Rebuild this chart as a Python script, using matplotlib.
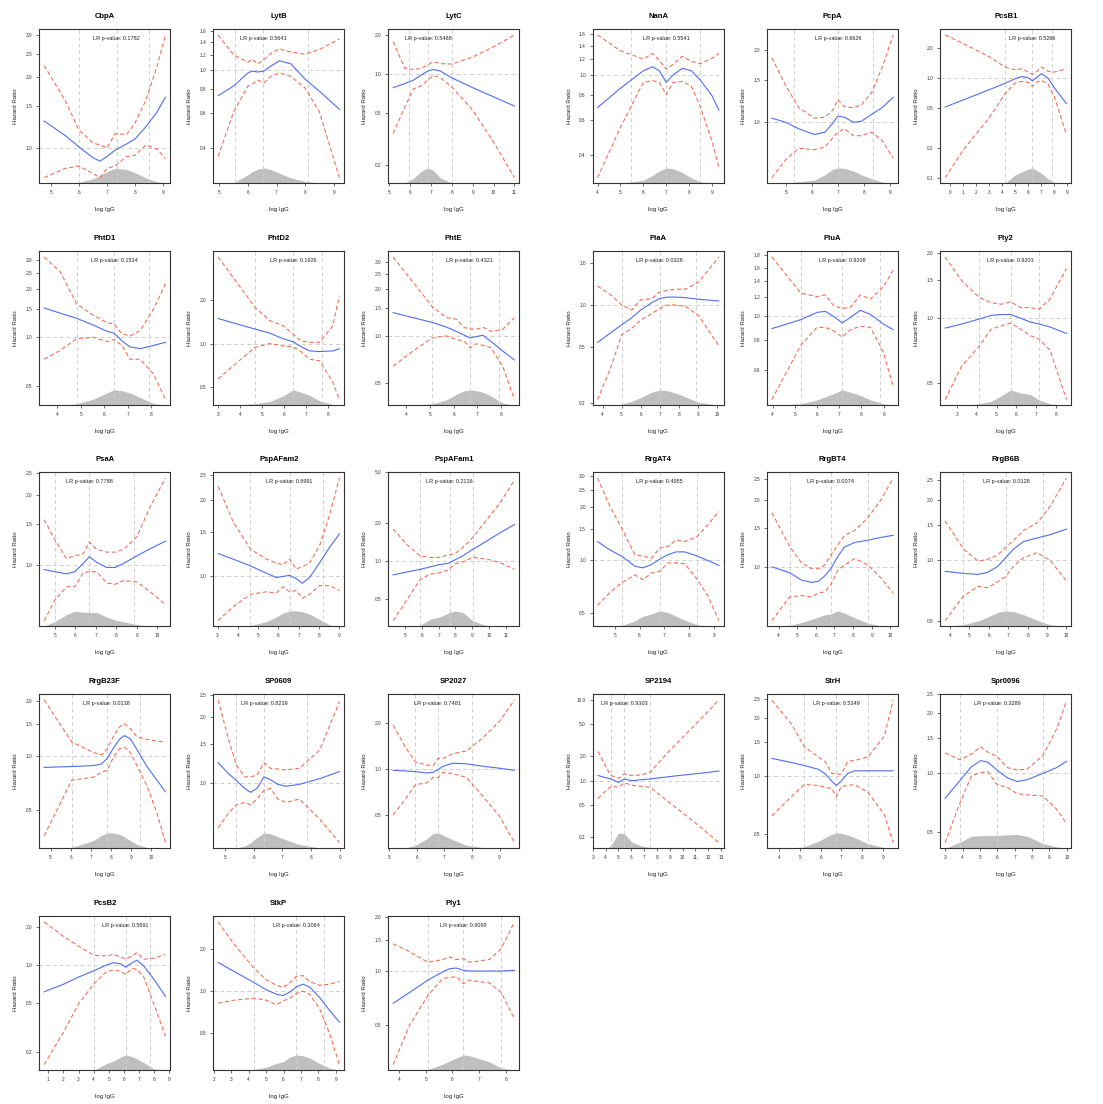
import numpy as np
import matplotlib
matplotlib.use('Agg')
import matplotlib.pyplot as plt
from matplotlib.ticker import NullLocator

plt.rcParams['font.family'] = ['Liberation Sans', 'DejaVu Sans']

# ---- data (x = log IgG, HR with lower / upper CI, density shape) ----
names = ['CbpA', 'LytB', 'LytC', 'NanA', 'PcpA', 'PcsB1',
         'PhtD1', 'PhtD2', 'PhtE', 'PiaA', 'PiuA', 'Ply2',
         'PsaA', 'PspAFam2', 'PspAFam1', 'RrgAT4', 'RrgBT4', 'RrgB6B',
         'RrgB23F', 'SP0609', 'SP2027', 'SP2194', 'StrH', 'Spr0096',
         'PcsB2', 'StkP', 'Ply1']
pvals = ['0.1782', '0.5641', '0.5468', '0.5541', '0.6626', '0.5266',
         '0.1534', '0.1926', '0.4321', '0.0328', '0.9208', '0.9203',
         '0.7788', '0.6991', '0.2136', '0.4955', '0.0074', '0.0128',
         '0.0138', '0.8239', '0.7481', '0.9303', '0.5349', '0.3289',
         '0.5691', '0.3064', '0.9099']

cbpa_x = [4.75, 5.5, 6.0, 6.5, 6.75, 7.0, 7.3, 7.7, 8.0, 8.4, 8.8, 9.1]
cbpa_hr = [1.30, 1.13, 1.01, 0.91, 0.88, 0.92, 0.98, 1.04, 1.09, 1.23, 1.42, 1.64]
cbpa_hi = [2.23, 1.59, 1.19, 1.05, 1.03, 1.00, 1.15, 1.14, 1.27, 1.59, 2.21, 3.0]
cbpa_lo = [0.75, 0.82, 0.84, 0.78, 0.75, 0.82, 0.84, 0.92, 0.93, 1.03, 0.99, 0.90]
cbpa_dens = [0, 0, 0.06, 0.3, 0.5, 0.75, 0.98, 0.9, 0.7, 0.35, 0.1, 0.03]
cbpa_q = [6.0, 7.35, 8.5]
cbpa_yt = [1.0, 1.5, 2.0, 2.5, 3.0]
cbpa_xt = [5, 6, 7, 8, 9]

lytb_x = [4.96, 5.5, 6.0, 6.15, 6.35, 6.55, 6.8, 7.1, 7.5, 8.0, 8.5, 9.2]
lytb_hr = [0.74, 0.83, 0.97, 0.99, 0.98, 0.99, 1.05, 1.12, 1.08, 0.90, 0.78, 0.63]
lytb_hi = [1.52, 1.20, 1.10, 1.14, 1.08, 1.13, 1.22, 1.29, 1.24, 1.21, 1.28, 1.45]
lytb_lo = [0.36, 0.61, 0.83, 0.85, 0.89, 0.86, 0.93, 0.97, 0.93, 0.81, 0.61, 0.28]
lytb_dens = [0, 0.03, 0.55, 0.75, 0.92, 1.0, 0.9, 0.65, 0.35, 0.12, 0.03, 0]
lytb_q = [5.56, 6.53, 8.09]
lytb_yt = [0.4, 0.6, 0.8, 1.0, 1.2, 1.4, 1.6]
lytb_xt = [5, 6, 7, 8, 9]

lytc_x = [5.19, 5.75, 6.15, 6.5, 6.85, 7.1, 7.45, 8.0, 9.0, 10.0, 11.0]
lytc_hr = [0.79, 0.85, 0.90, 0.98, 1.06, 1.09, 1.06, 0.94, 0.79, 0.67, 0.57]
lytc_hi = [1.79, 1.11, 1.09, 1.11, 1.18, 1.25, 1.21, 1.20, 1.36, 1.63, 2.01]
lytc_lo = [0.35, 0.56, 0.77, 0.81, 0.90, 0.98, 0.94, 0.80, 0.53, 0.30, 0.16]
lytc_dens = [0, 0.02, 0.3, 0.75, 1.0, 0.85, 0.35, 0.02, 0, 0, 0]
lytc_q = [5.94, 6.87, 8.03]
lytc_yt = [0.2, 0.5, 1.0, 2.0]
lytc_xt = [5, 6, 7, 8, 9, 10, 11]

nana_x = [4.0, 5.0, 6.0, 6.4, 6.7, 7.0, 7.3, 7.7, 8.1, 8.5, 9.0, 9.3]
nana_hr = [0.69, 0.86, 1.05, 1.10, 1.05, 0.92, 1.00, 1.08, 1.05, 0.94, 0.79, 0.67]
nana_hi = [1.58, 1.32, 1.20, 1.28, 1.18, 1.07, 1.13, 1.24, 1.17, 1.14, 1.21, 1.28]
nana_lo = [0.31, 0.55, 0.92, 0.94, 0.92, 0.80, 0.92, 0.93, 0.88, 0.69, 0.47, 0.35]
nana_dens = [0, 0, 0.2, 0.5, 0.8, 1.0, 0.95, 0.7, 0.35, 0.1, 0.02, 0]
nana_q = [5.47, 7.0, 8.48]
nana_yt = [0.4, 0.6, 0.8, 1.0, 1.2, 1.4, 1.6]
nana_xt = [4, 5, 6, 7, 8, 9]

pcpa_x = [4.47, 5.0, 5.5, 6.1, 6.5, 6.8, 7.0, 7.25, 7.6, 7.9, 8.3, 8.7, 9.12]
pcpa_hr = [1.04, 1.00, 0.94, 0.89, 0.91, 0.99, 1.06, 1.05, 1.00, 1.01, 1.08, 1.15, 1.27]
pcpa_hi = [1.85, 1.42, 1.15, 1.04, 1.05, 1.12, 1.24, 1.16, 1.15, 1.18, 1.33, 1.69, 2.30]
pcpa_lo = [0.59, 0.70, 0.78, 0.77, 0.79, 0.86, 0.91, 0.94, 0.88, 0.88, 0.91, 0.84, 0.71]
pcpa_dens = [0, 0.02, 0.1, 0.2, 0.55, 0.9, 1.0, 0.97, 0.8, 0.55, 0.3, 0.08, 0]
pcpa_q = [5.33, 7.0, 8.35]
pcpa_yt = [1.0, 1.5, 2.0]
pcpa_xt = [5, 6, 7, 8, 9]

pcsb1_x = [-0.4, 1.0, 3.0, 4.2, 5.0, 5.5, 6.0, 6.3, 6.6, 7.0, 7.5, 8.0, 8.92]
pcsb1_hr = [0.51, 0.60, 0.76, 0.88, 0.98, 1.03, 1.00, 0.93, 1.00, 1.10, 0.99, 0.79, 0.55]
pcsb1_hi = [2.68, 2.20, 1.62, 1.28, 1.20, 1.23, 1.14, 1.08, 1.14, 1.28, 1.16, 1.14, 1.23]
pcsb1_lo = [0.10, 0.19, 0.40, 0.69, 0.89, 0.92, 0.90, 0.82, 0.90, 0.94, 0.87, 0.64, 0.27]
pcsb1_dens = [0, 0, 0, 0.02, 0.55, 0.75, 0.92, 1.0, 0.85, 0.65, 0.3, 0.05, 0]
pcsb1_q = [4.2, 6.28, 7.83]
pcsb1_yt = [0.1, 0.2, 0.5, 1.0, 2.0]
pcsb1_xt = [0, 1, 2, 3, 4, 5, 6, 7, 8, 9]

phtd1_x = [3.45, 4.14, 4.83, 5.54, 6.11, 6.42, 6.75, 7.1, 7.53, 8.1, 8.6]
phtd1_hr = [1.52, 1.41, 1.31, 1.19, 1.09, 1.06, 0.95, 0.87, 0.85, 0.89, 0.93]
phtd1_hi = [3.15, 2.54, 1.61, 1.37, 1.23, 1.21, 1.05, 1.02, 1.10, 1.50, 2.15]
phtd1_lo = [0.73, 0.83, 0.98, 1.00, 0.94, 0.97, 0.89, 0.73, 0.73, 0.59, 0.41]
phtd1_dens = [0, 0.02, 0.1, 0.4, 0.8, 1.0, 0.95, 0.8, 0.5, 0.12, 0.02]
phtd1_q = [4.83, 6.42, 7.9]
phtd1_yt = [0.5, 1.0, 1.5, 2.0, 2.5, 3.0]
phtd1_xt = [4, 5, 6, 7, 8]

phtd2_x = [3.02, 3.69, 4.68, 5.35, 5.95, 6.4, 6.77, 7.15, 7.6, 8.2, 8.5]
phtd2_hr = [1.49, 1.39, 1.26, 1.18, 1.08, 1.03, 0.95, 0.89, 0.88, 0.89, 0.92]
phtd2_hi = [3.96, 2.87, 1.78, 1.44, 1.33, 1.16, 1.04, 1.02, 1.02, 1.33, 2.14]
phtd2_lo = [0.57, 0.70, 0.94, 1.00, 0.96, 0.95, 0.88, 0.78, 0.76, 0.54, 0.41]
phtd2_dens = [0, 0.02, 0.1, 0.25, 0.6, 1.0, 0.85, 0.65, 0.3, 0.05, 0]
phtd2_q = [4.68, 6.4, 7.7]
phtd2_yt = [0.5, 1.0, 2.0]
phtd2_xt = [3, 4, 5, 6, 7, 8]

phte_x = [3.44, 4.28, 5.1, 5.69, 6.11, 6.46, 6.7, 6.96, 7.24, 7.59, 8.08, 8.58]
phte_hr = [1.41, 1.31, 1.22, 1.14, 1.07, 1.01, 0.97, 0.99, 1.01, 0.92, 0.80, 0.70]
phte_hi = [3.21, 2.21, 1.54, 1.31, 1.28, 1.13, 1.11, 1.10, 1.14, 1.07, 1.10, 1.31]
phte_lo = [0.64, 0.80, 0.97, 1.00, 0.95, 0.92, 0.84, 0.89, 0.87, 0.84, 0.64, 0.39]
phte_dens = [0, 0.02, 0.1, 0.35, 0.7, 0.95, 1.0, 0.95, 0.85, 0.6, 0.15, 0.02]
phte_q = [5.1, 6.68, 7.94]
phte_yt = [0.5, 1.0, 1.5, 2.0, 2.5, 3.0]
phte_xt = [4, 5, 6, 7, 8]

piaa_x = [3.74, 4.48, 5.0, 5.53, 6.0, 6.59, 6.99, 7.38, 7.82, 8.35, 9.05, 10.11]
piaa_hr = [0.54, 0.64, 0.72, 0.81, 0.92, 1.04, 1.11, 1.14, 1.14, 1.13, 1.10, 1.07]
piaa_hi = [1.37, 1.17, 1.00, 0.92, 1.09, 1.11, 1.24, 1.27, 1.30, 1.30, 1.46, 2.21]
piaa_lo = [0.21, 0.37, 0.61, 0.68, 0.78, 0.87, 0.94, 1.00, 1.00, 0.98, 0.84, 0.51]
piaa_dens = [0, 0.02, 0.08, 0.25, 0.5, 0.85, 1.0, 0.95, 0.8, 0.55, 0.2, 0]
piaa_q = [5.0, 7.0, 8.91]
piaa_yt = [0.2, 0.5, 1.0, 2.0]
piaa_xt = [4, 5, 6, 7, 8, 9, 10]

piua_x = [3.97, 5.28, 6.0, 6.38, 6.75, 7.14, 7.5, 7.95, 8.41, 8.99, 9.43]
piua_hr = [0.89, 0.97, 1.04, 1.05, 1.00, 0.94, 0.99, 1.06, 1.02, 0.93, 0.88]
piua_hi = [1.77, 1.25, 1.21, 1.23, 1.11, 1.08, 1.09, 1.23, 1.18, 1.33, 1.56]
piua_lo = [0.45, 0.76, 0.90, 0.90, 0.87, 0.82, 0.88, 0.91, 0.90, 0.71, 0.51]
piua_dens = [0, 0.1, 0.35, 0.55, 0.75, 1.0, 0.85, 0.65, 0.35, 0.1, 0.02]
piua_q = [5.28, 7.14, 8.83]
piua_yt = [0.6, 0.8, 1.0, 1.2, 1.4, 1.6, 1.8]
piua_xt = [4, 5, 6, 7, 8, 9]

ply2_x = [2.42, 3.25, 4.12, 4.73, 5.22, 5.71, 6.21, 6.7, 7.14, 7.69, 8.51]
ply2_hr = [0.90, 0.94, 0.99, 1.03, 1.04, 1.04, 1.00, 0.96, 0.94, 0.91, 0.85]
ply2_hi = [1.92, 1.49, 1.25, 1.18, 1.16, 1.19, 1.12, 1.12, 1.10, 1.23, 1.70]
ply2_lo = [0.42, 0.60, 0.74, 0.89, 0.92, 0.95, 0.89, 0.83, 0.80, 0.71, 0.42]
ply2_dens = [0, 0, 0.1, 0.25, 0.6, 1.0, 0.8, 0.7, 0.35, 0.1, 0]
ply2_q = [4.12, 5.71, 7.14]
ply2_yt = [0.5, 1.0, 1.5, 2.0]
ply2_xt = [3, 4, 5, 6, 7, 8]

psaa_x = [4.48, 5.0, 5.57, 5.98, 6.39, 6.69, 7.05, 7.54, 7.95, 8.36, 9.02, 9.67, 10.41]
psaa_hr = [0.96, 0.94, 0.92, 0.94, 1.02, 1.09, 1.03, 0.98, 0.98, 1.02, 1.10, 1.18, 1.27]
psaa_hi = [1.57, 1.29, 1.07, 1.10, 1.12, 1.26, 1.17, 1.14, 1.14, 1.17, 1.33, 1.79, 2.37]
psaa_lo = [0.58, 0.71, 0.81, 0.81, 0.93, 0.94, 0.94, 0.84, 0.83, 0.86, 0.85, 0.77, 0.68]
psaa_dens = [0.02, 0.3, 0.75, 0.98, 0.92, 0.9, 0.9, 0.6, 0.4, 0.3, 0.1, 0.02, 0]
psaa_q = [5.0, 6.67, 8.85]
psaa_yt = [1.0, 1.5, 2.0, 2.5]
psaa_xt = [5, 6, 7, 8, 9, 10]

pspa2_x = [3.03, 3.77, 4.62, 5.4, 5.89, 6.22, 6.55, 6.87, 7.17, 7.53, 8.02, 8.51, 9.0]
pspa2_hr = [1.23, 1.17, 1.10, 1.03, 0.99, 1.00, 1.01, 0.98, 0.94, 0.99, 1.13, 1.30, 1.47]
pspa2_hi = [2.26, 1.64, 1.28, 1.17, 1.13, 1.11, 1.17, 1.07, 1.09, 1.13, 1.32, 1.74, 2.44]
pspa2_lo = [0.67, 0.76, 0.85, 0.87, 0.86, 0.91, 0.87, 0.88, 0.82, 0.85, 0.92, 0.92, 0.88]
pspa2_dens = [0, 0, 0.05, 0.3, 0.6, 0.85, 1.0, 1.0, 0.95, 0.8, 0.45, 0.1, 0]
pspa2_q = [4.62, 6.55, 8.18]
pspa2_yt = [1.0, 1.5, 2.0, 2.5]
pspa2_xt = [3, 4, 5, 6, 7, 8, 9]

pspa1_x = [4.31, 5.1, 5.89, 6.48, 7.07, 7.56, 7.95, 8.44, 9.04, 9.82, 10.61, 11.5]
pspa1_hr = [0.78, 0.82, 0.86, 0.90, 0.94, 0.96, 1.02, 1.10, 1.24, 1.43, 1.66, 1.94]
pspa1_hi = [1.79, 1.36, 1.10, 1.07, 1.07, 1.12, 1.14, 1.28, 1.54, 2.09, 2.83, 4.33]
pspa1_lo = [0.34, 0.49, 0.71, 0.79, 0.81, 0.85, 0.95, 0.99, 1.07, 1.04, 0.98, 0.86]
pspa1_dens = [0, 0, 0.05, 0.45, 0.6, 0.85, 1.0, 0.9, 0.35, 0.05, 0, 0]
pspa1_q = [5.89, 7.66, 9.04]
pspa1_yt = [0.5, 1.0, 2.0, 5.0]
pspa1_xt = [5, 6, 7, 8, 9, 10, 11]

rrgat4_x = [4.3, 4.8, 5.27, 5.81, 6.14, 6.48, 6.82, 7.15, 7.49, 7.83, 8.34, 8.77, 9.21]
rrgat4_hr = [1.27, 1.14, 1.05, 0.92, 0.90, 0.94, 1.01, 1.07, 1.11, 1.11, 1.05, 0.99, 0.93]
rrgat4_hi = [2.93, 2.02, 1.52, 1.07, 1.05, 1.02, 1.17, 1.19, 1.30, 1.27, 1.36, 1.59, 1.89]
rrgat4_lo = [0.55, 0.65, 0.74, 0.82, 0.77, 0.84, 0.86, 0.96, 0.96, 0.95, 0.77, 0.62, 0.45]
rrgat4_dens = [0, 0, 0.05, 0.35, 0.65, 0.8, 1.0, 0.9, 0.65, 0.4, 0.1, 0.02, 0]
rrgat4_q = [5.27, 6.82, 8.34]
rrgat4_yt = [0.5, 1.0, 1.5, 2.0, 2.5, 3.0]
rrgat4_xt = [5, 6, 7, 8, 9]

rrgbt4_x = [3.64, 4.59, 5.24, 5.78, 6.13, 6.49, 6.81, 7.2, 7.55, 8.09, 8.8, 9.5, 10.16]
rrgbt4_hr = [1.00, 0.94, 0.87, 0.85, 0.86, 0.91, 0.98, 1.12, 1.23, 1.29, 1.32, 1.36, 1.39]
rrgbt4_hi = [1.76, 1.24, 1.04, 0.98, 0.98, 1.02, 1.13, 1.26, 1.39, 1.46, 1.67, 2.01, 2.53]
rrgbt4_lo = [0.57, 0.73, 0.74, 0.73, 0.76, 0.77, 0.83, 0.97, 1.02, 1.09, 1.02, 0.89, 0.76]
rrgbt4_dens = [0, 0.05, 0.25, 0.45, 0.6, 0.75, 0.8, 1.0, 0.85, 0.55, 0.2, 0.03, 0]
rrgbt4_q = [4.59, 6.81, 8.8]
rrgbt4_yt = [1.0, 1.5, 2.0, 2.5]
rrgbt4_xt = [4, 5, 6, 7, 8, 9, 10]

rrgb6b_x = [3.75, 4.68, 5.44, 5.94, 6.45, 6.87, 7.29, 7.8, 8.48, 9.15, 10.0]
rrgb6b_hr = [0.88, 0.86, 0.85, 0.87, 0.93, 1.03, 1.14, 1.24, 1.29, 1.34, 1.43]
rrgb6b_hi = [1.57, 1.14, 0.99, 1.01, 1.06, 1.16, 1.26, 1.41, 1.53, 1.85, 2.57]
rrgb6b_lo = [0.50, 0.66, 0.74, 0.73, 0.78, 0.83, 0.94, 1.03, 1.09, 1.00, 0.79]
rrgb6b_dens = [0, 0.1, 0.35, 0.6, 0.9, 1.0, 0.95, 0.75, 0.4, 0.1, 0]
rrgb6b_q = [4.68, 6.88, 8.78]
rrgb6b_yt = [0.5, 1.0, 1.5, 2.0, 2.5]
rrgb6b_xt = [4, 5, 6, 7, 8, 9, 10]

rrgb23f_x = [4.68, 6.05, 7.13, 7.55, 7.83, 8.13, 8.43, 8.67, 8.97, 9.3, 9.8, 10.3, 10.72]
rrgb23f_hr = [0.86, 0.87, 0.88, 0.90, 0.97, 1.10, 1.23, 1.29, 1.24, 1.08, 0.87, 0.73, 0.63]
rrgb23f_hi = [2.03, 1.19, 1.04, 1.01, 1.09, 1.28, 1.44, 1.50, 1.41, 1.27, 1.23, 1.20, 1.19]
rrgb23f_lo = [0.36, 0.73, 0.76, 0.81, 0.83, 0.98, 1.09, 1.11, 1.04, 0.88, 0.68, 0.48, 0.33]
rrgb23f_dens = [0, 0.05, 0.5, 0.85, 1.0, 1.0, 0.9, 0.75, 0.5, 0.25, 0.05, 0, 0]
rrgb23f_q = [6.05, 7.8, 9.47]
rrgb23f_yt = [0.5, 1.0, 1.5, 2.0]
rrgb23f_xt = [5, 6, 7, 8, 9, 10]

sp0609_x = [4.77, 5.12, 5.4, 5.69, 5.89, 6.12, 6.36, 6.58, 6.84, 7.13, 7.59, 8.29, 8.98]
sp0609_hr = [1.24, 1.11, 1.03, 0.95, 0.91, 0.95, 1.07, 1.04, 0.99, 0.97, 0.99, 1.05, 1.13]
sp0609_hi = [2.38, 1.60, 1.21, 1.07, 1.07, 1.09, 1.24, 1.17, 1.16, 1.15, 1.17, 1.41, 2.34]
sp0609_lo = [0.63, 0.73, 0.80, 0.82, 0.80, 0.85, 0.93, 0.95, 0.85, 0.82, 0.85, 0.69, 0.54]
sp0609_dens = [0, 0, 0.02, 0.15, 0.35, 0.7, 1.0, 0.95, 0.75, 0.55, 0.25, 0.02, 0]
sp0609_q = [5.4, 6.36, 7.85]
sp0609_yt = [1.0, 1.5, 2.0, 2.5]
sp0609_xt = [5, 6, 7, 8, 9]

sp2027_x = [5.14, 5.57, 5.95, 6.35, 6.59, 6.77, 6.95, 7.31, 7.8, 8.4, 9.0, 9.54]
sp2027_hr = [0.98, 0.97, 0.96, 0.94, 0.95, 0.99, 1.04, 1.09, 1.08, 1.04, 1.01, 0.98]
sp2027_hi = [1.93, 1.40, 1.11, 1.06, 1.05, 1.17, 1.17, 1.26, 1.31, 1.60, 2.05, 2.82]
sp2027_lo = [0.50, 0.63, 0.79, 0.81, 0.88, 0.88, 0.95, 0.93, 0.88, 0.66, 0.49, 0.33]
sp2027_dens = [0, 0.02, 0.2, 0.6, 0.95, 1.0, 0.85, 0.55, 0.2, 0.05, 0, 0]
sp2027_q = [5.95, 6.75, 8.0]
sp2027_yt = [0.5, 1.0, 2.0]
sp2027_xt = [5, 6, 7, 8, 9]

sp2194_x = [3.41, 4.1, 4.44, 5.01, 5.45, 6.04, 6.81, 7.46, 8.88, 10.16, 11.45, 12.82]
sp2194_hr = [1.16, 1.08, 1.05, 0.95, 1.05, 1.00, 1.03, 1.05, 1.12, 1.18, 1.24, 1.32]
sp2194_hi = [2.31, 1.40, 1.16, 1.07, 1.21, 1.16, 1.18, 1.27, 2.27, 3.67, 5.93, 10.07]
sp2194_lo = [0.60, 0.77, 0.85, 0.83, 0.94, 0.88, 0.85, 0.83, 0.55, 0.38, 0.26, 0.17]
sp2194_dens = [0, 0, 0.2, 1.0, 0.95, 0.4, 0.15, 0.05, 0, 0, 0, 0]
sp2194_q = [4.44, 5.45, 7.46]
sp2194_yt = [0.2, 0.5, 1.0, 2.0, 5.0, 10.0]
sp2194_xt = [3, 4, 5, 6, 7, 8, 9, 10, 11, 12, 13]

strh_x = [3.63, 4.59, 5.19, 5.88, 6.23, 6.52, 6.76, 7.0, 7.32, 7.64, 8.28, 9.08, 9.51]
strh_hr = [1.23, 1.17, 1.13, 1.08, 1.02, 0.94, 0.89, 0.94, 1.03, 1.06, 1.06, 1.06, 1.06]
strh_hi = [2.46, 1.85, 1.42, 1.25, 1.18, 1.03, 1.02, 1.02, 1.19, 1.20, 1.25, 1.60, 2.47]
strh_lo = [0.62, 0.78, 0.90, 0.89, 0.87, 0.86, 0.78, 0.88, 0.89, 0.90, 0.82, 0.63, 0.45]
strh_dens = [0, 0.02, 0.1, 0.45, 0.7, 0.9, 1.0, 0.98, 0.85, 0.7, 0.3, 0.05, 0]
strh_q = [5.19, 6.76, 8.28]
strh_yt = [0.5, 1.0, 1.5, 2.0, 2.5]
strh_xt = [4, 5, 6, 7, 8, 9]

spr0096_x = [3.0, 3.85, 4.51, 5.04, 5.45, 5.98, 6.58, 7.15, 7.72, 8.62, 9.42, 9.98]
spr0096_hr = [0.74, 0.91, 1.07, 1.15, 1.13, 1.03, 0.94, 0.90, 0.92, 0.99, 1.06, 1.14]
spr0096_hi = [1.26, 1.16, 1.24, 1.35, 1.27, 1.21, 1.06, 1.03, 1.04, 1.22, 1.67, 2.30]
spr0096_lo = [0.44, 0.70, 0.96, 1.00, 1.01, 0.87, 0.84, 0.78, 0.77, 0.76, 0.65, 0.55]
spr0096_dens = [0, 0.4, 0.78, 0.82, 0.82, 0.84, 0.88, 0.9, 0.78, 0.32, 0.09, 0.02]
spr0096_q = [3.85, 5.98, 8.62]
spr0096_yt = [0.5, 1.0, 1.5, 2.0, 2.5]
spr0096_xt = [3, 4, 5, 6, 7, 8, 9, 10]

pcsb2_x = [0.73, 2.0, 3.01, 4.03, 4.87, 5.31, 5.76, 6.11, 6.53, 6.86, 7.31, 7.97, 8.74]
pcsb2_hr = [0.61, 0.70, 0.80, 0.90, 1.00, 1.04, 1.02, 0.96, 1.04, 1.09, 0.98, 0.77, 0.56]
pcsb2_hi = [2.20, 1.69, 1.41, 1.19, 1.18, 1.21, 1.16, 1.11, 1.18, 1.25, 1.11, 1.13, 1.21]
pcsb2_lo = [0.16, 0.29, 0.49, 0.71, 0.89, 0.91, 0.89, 0.84, 0.94, 0.92, 0.80, 0.49, 0.27]
pcsb2_dens = [0, 0, 0, 0.02, 0.45, 0.6, 0.85, 1.0, 0.9, 0.75, 0.5, 0.1, 0]
pcsb2_q = [4.03, 6.11, 7.75]
pcsb2_yt = [0.2, 0.5, 1.0, 2.0]
pcsb2_xt = [1, 2, 3, 4, 5, 6, 7, 8, 9]

stkp_x = [2.25, 3.11, 4.31, 5.02, 5.59, 5.97, 6.35, 6.73, 7.11, 7.5, 8.07, 8.64, 9.21]
stkp_hr = [1.60, 1.39, 1.15, 1.02, 0.95, 0.93, 0.98, 1.07, 1.12, 1.07, 0.90, 0.73, 0.60]
stkp_hi = [3.10, 2.20, 1.45, 1.20, 1.10, 1.06, 1.14, 1.27, 1.29, 1.17, 1.10, 1.12, 1.17]
stkp_lo = [0.82, 0.86, 0.89, 0.86, 0.80, 0.85, 0.89, 0.96, 1.00, 0.95, 0.75, 0.50, 0.30]
stkp_dens = [0, 0, 0.05, 0.2, 0.45, 0.55, 0.85, 1.0, 0.95, 0.8, 0.45, 0.15, 0]
stkp_q = [4.31, 6.73, 8.35]
stkp_yt = [0.5, 1.0, 2.0]
stkp_xt = [2, 3, 4, 5, 6, 7, 8, 9]

ply1_x = [3.78, 4.4, 5.08, 5.64, 5.89, 6.14, 6.41, 6.64, 7.01, 7.38, 7.82, 8.32]
ply1_hr = [0.66, 0.76, 0.89, 0.99, 1.03, 1.04, 1.01, 1.00, 1.00, 1.00, 1.00, 1.01]
ply1_hi = [1.42, 1.28, 1.12, 1.16, 1.20, 1.16, 1.17, 1.12, 1.14, 1.16, 1.33, 1.88]
ply1_lo = [0.30, 0.50, 0.73, 0.91, 0.92, 0.93, 0.85, 0.89, 0.87, 0.86, 0.76, 0.54]
ply1_dens = [0, 0, 0.05, 0.4, 0.6, 0.8, 1.0, 0.95, 0.75, 0.55, 0.15, 0]
ply1_q = [5.08, 6.41, 7.82]
ply1_yt = [0.5, 1.0, 1.5, 2.0]
ply1_xt = [4, 5, 6, 7, 8]

panels = [
    (cbpa_x, cbpa_hr, cbpa_lo, cbpa_hi, cbpa_dens, cbpa_q, cbpa_yt, cbpa_xt),
    (lytb_x, lytb_hr, lytb_lo, lytb_hi, lytb_dens, lytb_q, lytb_yt, lytb_xt),
    (lytc_x, lytc_hr, lytc_lo, lytc_hi, lytc_dens, lytc_q, lytc_yt, lytc_xt),
    (nana_x, nana_hr, nana_lo, nana_hi, nana_dens, nana_q, nana_yt, nana_xt),
    (pcpa_x, pcpa_hr, pcpa_lo, pcpa_hi, pcpa_dens, pcpa_q, pcpa_yt, pcpa_xt),
    (pcsb1_x, pcsb1_hr, pcsb1_lo, pcsb1_hi, pcsb1_dens, pcsb1_q, pcsb1_yt, pcsb1_xt),
    (phtd1_x, phtd1_hr, phtd1_lo, phtd1_hi, phtd1_dens, phtd1_q, phtd1_yt, phtd1_xt),
    (phtd2_x, phtd2_hr, phtd2_lo, phtd2_hi, phtd2_dens, phtd2_q, phtd2_yt, phtd2_xt),
    (phte_x, phte_hr, phte_lo, phte_hi, phte_dens, phte_q, phte_yt, phte_xt),
    (piaa_x, piaa_hr, piaa_lo, piaa_hi, piaa_dens, piaa_q, piaa_yt, piaa_xt),
    (piua_x, piua_hr, piua_lo, piua_hi, piua_dens, piua_q, piua_yt, piua_xt),
    (ply2_x, ply2_hr, ply2_lo, ply2_hi, ply2_dens, ply2_q, ply2_yt, ply2_xt),
    (psaa_x, psaa_hr, psaa_lo, psaa_hi, psaa_dens, psaa_q, psaa_yt, psaa_xt),
    (pspa2_x, pspa2_hr, pspa2_lo, pspa2_hi, pspa2_dens, pspa2_q, pspa2_yt, pspa2_xt),
    (pspa1_x, pspa1_hr, pspa1_lo, pspa1_hi, pspa1_dens, pspa1_q, pspa1_yt, pspa1_xt),
    (rrgat4_x, rrgat4_hr, rrgat4_lo, rrgat4_hi, rrgat4_dens, rrgat4_q, rrgat4_yt, rrgat4_xt),
    (rrgbt4_x, rrgbt4_hr, rrgbt4_lo, rrgbt4_hi, rrgbt4_dens, rrgbt4_q, rrgbt4_yt, rrgbt4_xt),
    (rrgb6b_x, rrgb6b_hr, rrgb6b_lo, rrgb6b_hi, rrgb6b_dens, rrgb6b_q, rrgb6b_yt, rrgb6b_xt),
    (rrgb23f_x, rrgb23f_hr, rrgb23f_lo, rrgb23f_hi, rrgb23f_dens, rrgb23f_q, rrgb23f_yt, rrgb23f_xt),
    (sp0609_x, sp0609_hr, sp0609_lo, sp0609_hi, sp0609_dens, sp0609_q, sp0609_yt, sp0609_xt),
    (sp2027_x, sp2027_hr, sp2027_lo, sp2027_hi, sp2027_dens, sp2027_q, sp2027_yt, sp2027_xt),
    (sp2194_x, sp2194_hr, sp2194_lo, sp2194_hi, sp2194_dens, sp2194_q, sp2194_yt, sp2194_xt),
    (strh_x, strh_hr, strh_lo, strh_hi, strh_dens, strh_q, strh_yt, strh_xt),
    (spr0096_x, spr0096_hr, spr0096_lo, spr0096_hi, spr0096_dens, spr0096_q, spr0096_yt, spr0096_xt),
    (pcsb2_x, pcsb2_hr, pcsb2_lo, pcsb2_hi, pcsb2_dens, pcsb2_q, pcsb2_yt, pcsb2_xt),
    (stkp_x, stkp_hr, stkp_lo, stkp_hi, stkp_dens, stkp_q, stkp_yt, stkp_xt),
    (ply1_x, ply1_hr, ply1_lo, ply1_hi, ply1_dens, ply1_q, ply1_yt, ply1_xt),
]

# ---- layout (pixels of the 1103 x 1104 picture) ----
W, H = 1103, 1104
col_left = [39.3, 213.3, 388.3, 592.7, 767.0, 940.3]
row_top = [29.3, 251.3, 472.3, 694.3, 916.3]
box_w, box_h = 131, 154

blue = '#4f6ef5'
red = '#f4664c'
grid = '#d0d0d0'
dens_col = '#bfbfbf'

fig = plt.figure(figsize=(W / 100, H / 100), dpi=100)

for i, (name, p, pan) in enumerate(zip(names, pvals, panels)):
    x, hr, lo, hi, dens, q, yt, xt = pan
    r, c = divmod(i, 6)
    ax = fig.add_axes([col_left[c] / W, 1 - (row_top[r] + box_h) / H, box_w / W, box_h / H])
    ax.set_yscale('log')

    # density of the antibody levels along the bottom
    ax.fill_between(x, 0, np.array(dens) * 0.1, transform=ax.get_xaxis_transform(),
                    color=dens_col, lw=0, zorder=1)
    for v in q:
        ax.axvline(v, color=grid, lw=0.7, ls=(0, (4, 3)), zorder=2)
    ax.axhline(1.0, color=grid, lw=0.7, ls=(0, (4, 3)), zorder=2)

    ax.plot(x, hi, color=red, lw=0.75, ls=(0, (4, 2.5)), zorder=3)
    ax.plot(x, lo, color=red, lw=0.75, ls=(0, (4, 2.5)), zorder=3)
    ax.plot(x, hr, color=blue, lw=0.8, zorder=4)

    ax.text(q[1], 0.94, 'LR p-value: ' + p, transform=ax.get_xaxis_transform(),
            ha='center', va='center', fontsize=4, color='#222222')

    # R-style limits: 4% padding of the data range (log range on y)
    xr = x[-1] - x[0]
    ax.set_xlim(x[0] - 0.04 * xr, x[-1] + 0.04 * xr)
    ylo = np.log(min(lo + hr))
    yhi = np.log(max(hi + hr))
    pad = 0.04 * (yhi - ylo)
    ax.set_ylim(np.exp(ylo - pad), np.exp(yhi + pad))

    ax.set_yticks(yt)
    ax.set_yticklabels(['%.1f' % v for v in yt])
    ax.yaxis.set_minor_locator(NullLocator())
    ax.set_xticks(xt)
    ax.set_xticklabels([str(v) for v in xt])
    ax.tick_params(axis='both', length=2.5, width=0.5, labelsize=3.4, pad=2.5,
                   color='#333333', labelcolor='#333333')
    for s in ax.spines.values():
        s.set_linewidth(0.8)
        s.set_color('#333333')

    ax.set_title(name, fontsize=5.5, fontweight='bold', pad=8)
    ax.set_xlabel('log IgG', fontsize=4.4, color='#222222')
    ax.xaxis.set_label_coords(0.5, -24 / box_h)
    ax.set_ylabel('Hazard Ratio', fontsize=4.4, color='#222222')
    ax.yaxis.set_label_coords(-21 / box_w, 0.5)

fig.savefig('out.png', dpi=100)
